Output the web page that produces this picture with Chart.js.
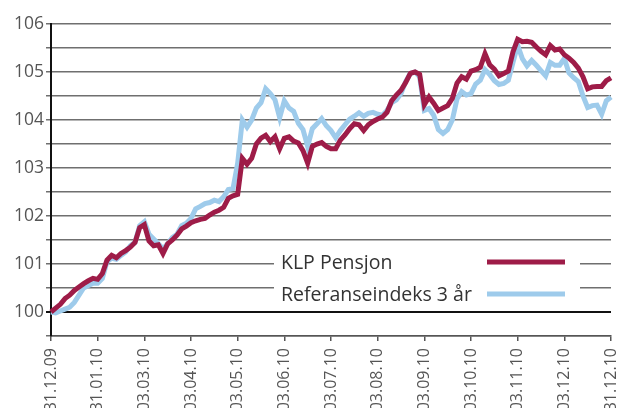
<!DOCTYPE html>
<html><head><meta charset="utf-8">
<script src="https://cdn.jsdelivr.net/npm/chart.js@4/dist/chart.umd.min.js"></script>
<style>html,body{margin:0;padding:0;background:#fff}#wrap{width:618px;height:408px;overflow:hidden}</style>
</head><body><div id="wrap"><canvas id="c" width="618" height="408"></canvas></div>
<script>
const tickLabels = ['31.12.09','31.01.10','03.03.10','03.04.10','03.05.10','03.06.10','03.07.10','03.08.10','03.09.10','03.10.10','03.11.10','03.12.10','31.12.10'];
const seriesNames = ['KLP Pensjon','Referanseindeks 3 år'];
const klp = [
100.00,100.08,100.16,100.28,100.35,100.45,100.52,100.59,100.65,100.70,
100.68,100.80,101.08,101.18,101.13,101.22,101.28,101.35,101.45,101.76,
101.82,101.48,101.38,101.40,101.22,101.42,101.50,101.60,101.73,101.79,
101.86,101.90,101.93,101.95,102.02,102.08,102.12,102.18,102.37,102.42,
102.45,103.20,103.08,103.20,103.50,103.62,103.68,103.55,103.65,103.40,
103.62,103.65,103.56,103.52,103.36,103.10,103.45,103.50,103.53,103.45,
103.40,103.40,103.58,103.69,103.82,103.92,103.90,103.78,103.90,103.97,
104.02,104.06,104.16,104.40,104.52,104.62,104.78,104.97,105.00,104.95,
104.32,104.48,104.35,104.20,104.25,104.30,104.45,104.77,104.90,104.85,
105.02,105.05,105.10,105.38,105.15,105.06,104.92,104.97,105.02,105.42,
105.68,105.63,105.64,105.62,105.52,105.43,105.36,105.55,105.46,105.48,
105.36,105.29,105.20,105.08,104.90,104.65,104.69,104.70,104.70,104.82,
104.88];
const ref = [
100.00,99.98,100.02,100.06,100.10,100.20,100.35,100.50,100.55,100.60,
100.60,100.70,101.05,101.12,101.10,101.18,101.25,101.38,101.45,101.80,
101.88,101.62,101.52,101.42,101.32,101.42,101.55,101.62,101.80,101.85,
101.95,102.15,102.20,102.26,102.28,102.33,102.30,102.40,102.55,102.57,
103.10,104.00,103.85,104.00,104.25,104.36,104.65,104.55,104.42,104.05,
104.40,104.25,104.18,103.93,103.80,103.45,103.82,103.92,104.03,103.88,
103.78,103.63,103.78,103.90,104.02,104.08,104.15,104.08,104.14,104.16,
104.12,104.10,104.20,104.36,104.42,104.55,104.80,104.97,105.00,104.90,
104.20,104.24,104.10,103.80,103.72,103.80,104.00,104.44,104.59,104.52,
104.55,104.75,104.83,105.05,104.95,104.82,104.74,104.76,104.83,105.20,
105.56,105.28,105.13,105.24,105.14,105.03,104.92,105.20,105.14,105.14,
105.28,104.98,104.88,104.80,104.50,104.26,104.30,104.31,104.12,104.40,
104.48];

const STEP = (klp.length - 1) / (tickLabels.length - 1);
const categories = klp.map((v, i) => (i % STEP === 0 ? tickLabels[i / STEP] : ''));

const RED = '#9e1c48';
const BLUE = '#9ecbeb';
const FONT = '"Open Sans", "Noto Sans", sans-serif';

const inlineLegend = {
  id: 'inlineLegend',
  afterDraw(chart) {
    const { ctx, chartArea: a } = chart;
    const items = [
      { text: seriesNames[0], color: RED, y: a.top + 238 },
      { text: seriesNames[1], color: BLUE, y: a.top + 270 }
    ];
    ctx.save();
    ctx.fillStyle = '#fff';
    ctx.fillRect(a.left + 223, a.top + 222, 306, 62);
    ctx.font = '19.5px ' + FONT;
    ctx.textBaseline = 'middle';
    ctx.textAlign = 'left';
    items.forEach(it => {
      ctx.fillStyle = '#333';
      ctx.fillText(it.text, a.left + 230, it.y + 1);
      ctx.strokeStyle = it.color;
      ctx.lineWidth = 5;
      ctx.beginPath();
      ctx.moveTo(a.left + 436, it.y);
      ctx.lineTo(a.left + 514, it.y);
      ctx.stroke();
    });
    ctx.restore();
  }
};

new Chart(document.getElementById('c'), {
  type: 'line',
  data: {
    labels: categories,
    datasets: [
      { label: seriesNames[1], data: ref, borderColor: BLUE, borderWidth: 5, pointRadius: 0, tension: 0, order: 2 },
      { label: seriesNames[0], data: klp, borderColor: RED, borderWidth: 5, pointRadius: 0, tension: 0, order: 1 }
    ]
  },
  options: {
    responsive: false,
    animation: false,
    devicePixelRatio: 1,
    layout: { padding: { top: 24, right: 7, left: 0, bottom: 0 } },
    plugins: { legend: { display: false }, tooltip: { enabled: false } },
    scales: {
      x: {
        type: 'category',
        offset: false,
        afterFit(s) { s.height = 72; s.paddingLeft = 0; s.paddingRight = 0; },
        border: { display: true, color: '#555', width: 1.5 },
        grid: {
          drawOnChartArea: false,
          drawTicks: true,
          tickLength: 5,
          lineWidth: 1.5,
          color: c => (c.tick && c.tick.label ? '#555' : 'rgba(0,0,0,0)')
        },
        ticks: {
          autoSkip: false,
          maxRotation: 90,
          minRotation: 90,
          padding: 7,
          color: '#555',
          font: { family: FONT, size: 16 }
        }
      },
      y: {
        min: 99.5,
        max: 106,
        afterFit(s) { s.width = 51; },
        border: { display: true, color: '#111', width: 2 },
        grid: {
          tickLength: 5,
          color: c => (c.tick && c.tick.value === 100 ? '#111' : '#6f6f6f'),
          lineWidth: c => (c.tick && c.tick.value === 100 ? 2 : 1.5)
        },
        ticks: {
          stepSize: 0.5,
          padding: 2,
          color: '#555',
          font: { family: FONT, size: 17.5 },
          callback: v => (Number.isInteger(v) ? String(v) : '')
        }
      }
    }
  },
  plugins: [inlineLegend]
});
</script></body></html>
